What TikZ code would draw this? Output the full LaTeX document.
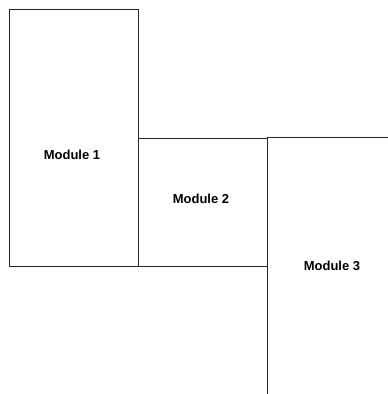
\documentclass[tikz,border=0pt]{standalone}
\usepackage{fontspec}
\setmainfont{Liberation Sans}
\begin{document}
\begin{tikzpicture}[x=1pt,y=-1pt,
  modbox/.style={draw=black!85,line width=0.9pt,inner sep=0pt,outer sep=0pt},
  modlabel/.style={font=\bfseries\fontsize{13}{15}\selectfont,inner sep=0pt}]
\useasboundingbox (0,0) rectangle (388,394);
\clip (0,0) rectangle (388,394);
\node[modbox,minimum width=129pt,minimum height=257pt] (m1) at (74,137.5) {};
\node[modbox,minimum width=128.5pt,minimum height=128pt] (m2) at (202.75,202) {};
\node[modbox,minimum width=129pt,minimum height=258pt] (m3) at (331.5,266) {};
\node[modlabel] (t1) at (72,155) {Module 1};
\node[modlabel] (t2) at (201,199) {Module 2};
\node[modlabel] (t3) at (332,266) {Module 3};
\end{tikzpicture}
\end{document}
